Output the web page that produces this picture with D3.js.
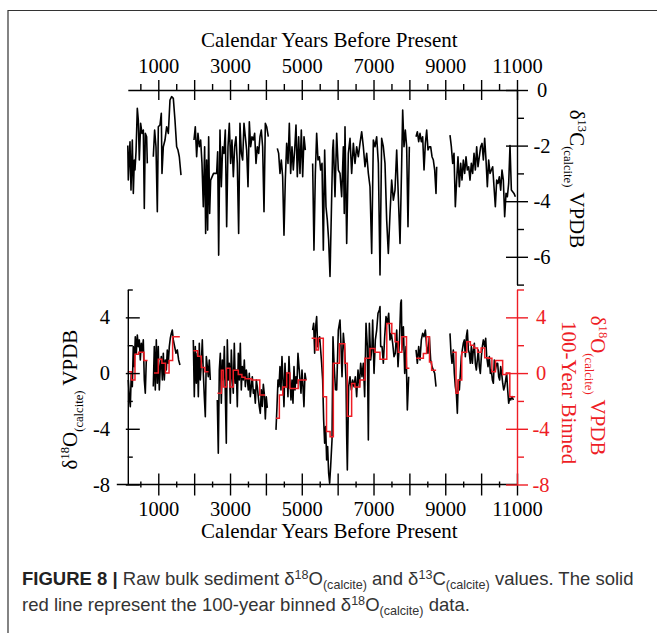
<!DOCTYPE html>
<html>
<head>
<meta charset="utf-8">
<script src="https://cdn.jsdelivr.net/npm/d3@7"></script>
<style>
  body { margin: 0; background: #fff; }
  svg { display: block; }
  svg text { font-family: "Liberation Serif", "Times New Roman", serif; font-size: 21px; }
  svg .tick text { font-size: 20.5px; }
  svg text.caption { font-family: "Liberation Sans", Arial, sans-serif; font-size: 18.5px; fill: #333; }
</style>
</head>
<body>
<script>
// ---- axis ticks ----
const majorYears = [1000, 2000, 3000, 4000, 5000, 6000, 7000, 8000, 9000, 10000, 11000];
const minorYears = [500, 1500, 2500, 3500, 4500, 5500, 6500, 7500, 8500, 9500, 10500];
const labelYears = [1000, 3000, 5000, 7000, 9000, 11000];
const c13Major = [0, -2, -4, -6];
const c13Minor = [-1, -3, -5, -7];
const o18Major = [-8, -4, 0, 4];
const o18Minor = [-6, -2, 2, 6];

// ---- raw d13C (calcite), [year BP, permil] per continuous run ----
const c13Run1 = [[150,-2.0],[164,-3.24],[211,-1.86],[239,-3.6],[276,-1.8],[304,-3.72],[332,-2.52],[350,-2.88],[380,-2.2],[415,-0.66],[443,-1.08],[471,-2.52],[508,-1.2],[545,-1.56],[583,-1.44],[610,-4.26],[638,-1.56],[675,-1.68],[694,-2.64]];
const c13Run2 = [[861,-2.4],[898,-1.44],[936,-2.04],[973,-4.38],[1001,-1.32],[1047,-1.26],[1084,-0.84],[1103,-3.0],[1140,-2.04],[1187,-1.8],[1233,-1.32],[1280,-1.56],[1326,-0.36],[1372,-0.24],[1419,-0.3],[1465,-1.08],[1512,-2.04],[1549,-2.16],[1586,-2.4],[1633,-3.06]];
const c13Run3 = [[1995,-1.8],[2032,-1.32],[2069,-2.4],[2106,-1.56],[2144,-2.04],[2181,-1.8],[2218,-2.64],[2255,-4.2],[2292,-2.04],[2320,-5.16],[2348,-2.52],[2376,-5.04],[2404,-1.68],[2432,-4.44],[2460,-3.24],[2540,-3.0],[2627,-3.0],[2655,-2.22],[2683,-5.94],[2720,-1.44],[2757,-3.48],[2794,-2.04],[2831,-2.28],[2868,-1.44],[2906,-4.92],[2943,-2.04],[2980,-1.2],[3017,-2.64],[3054,-1.8],[3092,-3.12],[3129,-2.04],[3166,-1.68],[3203,-2.64],[3240,-5.16],[3277,-1.2],[3315,-2.28],[3352,-2.52],[3389,-1.2],[3426,-1.68],[3463,-2.16],[3501,-3.48],[3538,-1.14],[3575,-2.04],[3612,-1.68],[3649,-1.8],[3686,-1.56],[3724,-2.64],[3761,-2.04],[3798,-2.28],[3835,-1.68],[3872,-1.44],[3909,-2.04],[3947,-4.38],[3984,-1.2],[4021,-1.32],[4067,-1.68]];
const c13Run4 = [[4318,-2.1],[4355,-2.28],[4393,-3.0],[4430,-2.52],[4467,-3.12],[4504,-5.22],[4541,-3.24],[4579,-1.92],[4616,-2.64],[4653,-1.2],[4690,-3.0],[4727,-2.04],[4764,-2.88],[4802,-2.16],[4839,-1.26],[4876,-3.12],[4913,-1.68],[4950,-3.0],[4987,-1.44],[5025,-3.12],[5062,-1.68],[5099,-2.16]];
const c13Run5 = [[5303,-2.64],[5340,-5.76],[5378,-3.0],[5415,-1.56],[5452,-2.52],[5489,-2.4],[5526,-2.88],[5564,-2.64],[5601,-5.76],[5638,-2.16],[5675,-4.2],[5712,-4.68],[5749,-5.4],[5787,-6.71],[5824,-4.44],[5861,-2.16],[5880,-1.8],[5926,-3.84],[5973,-1.56],[6019,-2.88],[6066,-3.0],[6112,-3.84],[6159,-2.04],[6185,-4.44],[6205,-1.32],[6252,-5.52],[6298,-2.28],[6345,-1.74],[6391,-3.0],[6438,-1.92],[6484,-2.64],[6530,-2.04],[6577,-2.4],[6623,-1.92],[6670,-1.5],[6716,-2.04],[6763,-2.76],[6809,-2.28],[6856,-3.0],[6902,-3.48],[6949,-5.88],[6995,-1.8],[7042,-2.04],[7088,-1.68],[7135,-2.64],[7181,-6.65],[7227,-1.74],[7274,-2.04],[7320,-2.64],[7367,-4.68],[7413,-5.88],[7460,-4.44],[7506,-3.24],[7553,-3.96],[7599,-3.6],[7646,-2.16],[7692,-3.84],[7739,-5.52],[7785,-2.64],[7813,-0.72],[7850,-2.04],[7887,-1.44],[7924,-2.04],[7961,-4.92],[7999,-2.04]];
const c13Run6 = [[8185,-1.68],[8222,-1.5],[8259,-1.86],[8296,-1.56],[8333,-1.86],[8370,-1.68],[8408,-2.88],[8445,-1.92],[8482,-1.44],[8519,-2.16],[8556,-2.04],[8593,-2.04],[8631,-2.4],[8668,-2.52],[8705,-2.88],[8742,-3.72],[8761,-2.76]];
const c13Run7 = [[9132,-1.62],[9170,-2.04],[9207,-2.64],[9244,-2.28],[9281,-4.2],[9318,-3.24],[9355,-2.4],[9393,-3.48],[9430,-2.64],[9467,-3.24],[9504,-2.52],[9541,-3.0],[9579,-2.4],[9616,-2.88],[9653,-2.76],[9690,-3.24],[9727,-2.64],[9764,-3.0],[9802,-2.28],[9839,-2.88],[9876,-2.04],[9913,-2.76],[9950,-2.4],[9987,-2.04],[10025,-1.92],[10062,-2.52],[10099,-1.74],[10136,-2.52],[10173,-3.48],[10210,-2.52],[10248,-3.0],[10285,-2.88],[10322,-2.76],[10359,-3.48],[10396,-4.2],[10434,-3.24],[10471,-3.36],[10508,-3.12],[10545,-3.6],[10582,-2.88],[10619,-3.24],[10656,-4.56],[10694,-3.72],[10731,-3.84],[10768,-3.36],[10805,-2.0],[10843,-3.6],[10880,-3.66],[10917,-3.72],[10954,-3.84]];

// ---- raw d18O (calcite) ----
const o18Run1 = [[164,-0.5],[192,-1.69],[220,-2.41],[248,-0.02],[276,-0.97],[303,1.9],[331,0.46],[359,2.61],[387,1.42],[415,2.73],[443,1.9],[471,2.38],[499,0.94],[526,2.14],[554,1.54],[582,2.38],[610,-0.5],[638,-1.45],[666,0.94]];
const o18Run2 = [[861,-0.97],[889,1.9],[917,-1.21],[945,2.38],[973,-0.73],[1000,1.9],[1028,-1.21],[1056,0.46],[1084,1.18],[1112,-0.5],[1140,1.42],[1168,-0.5],[1196,0.94],[1224,0.22],[1251,1.66],[1279,0.7],[1307,1.9],[1335,2.5],[1363,2.85],[1391,3.09],[1419,2.38],[1456,1.9],[1493,1.42],[1530,1.66],[1567,0.94],[1604,0.58]];
const o18Run3 = [[1976,2.38],[2004,-1.69],[2032,1.9],[2060,-0.73],[2088,1.42],[2116,-1.69],[2143,2.14],[2171,-0.5],[2199,0.7],[2227,2.38],[2255,-0.02],[2283,-1.69],[2311,-3.13],[2339,1.18],[2367,0.46],[2394,-0.26],[2422,0.94],[2450,-0.5]];
const o18Run4 = [[2645,-1.93],[2673,-5.76],[2701,0.22],[2729,1.42],[2757,-2.17],[2785,0.94],[2813,-0.5],[2841,1.9],[2868,-1.45],[2896,-5.04],[2924,2.38],[2952,-0.5],[2980,0.7],[3008,-2.17],[3036,1.66],[3063,-0.26],[3091,-1.45],[3119,2.14],[3147,-0.73],[3175,0.22],[3203,-2.41],[3231,1.42],[3259,-0.5],[3287,2.14],[3314,-1.21],[3342,0.46],[3370,-0.5],[3398,0.94],[3426,-0.97],[3454,0.22],[3482,-0.5],[3510,-1.21],[3537,-0.02],[3565,-1.69],[3593,-0.97],[3621,-0.26],[3649,-1.45],[3677,-1.21],[3705,-2.17],[3733,-0.5],[3760,-0.97],[3788,-1.69],[3816,-2.41],[3844,-2.89],[3872,-1.2],[3900,-2.4],[3928,-0.8],[3956,-1.5],[3984,-3.3],[4011,-1.7],[4039,-2.5]];
const o18Run5 = [[4281,-4.08],[4309,-2.41],[4337,-0.5],[4365,-0.97],[4392,0.46],[4420,-1.21],[4448,1.18],[4476,-0.5],[4504,-2.41],[4532,0.7],[4560,-0.97],[4588,-0.02],[4615,-1.69],[4643,1.18],[4671,-0.5],[4699,-1.93],[4727,-0.5],[4755,-2.17],[4783,0.46],[4811,-1.21],[4838,-0.26],[4866,-0.73],[4894,1.42],[4922,0.46],[4950,-0.5],[4978,-1.45],[5006,0.22],[5034,-0.97],[5061,-2.41],[5089,-0.02],[5117,-0.5]];
const o18Run6 = [[5303,3.09],[5331,3.57],[5359,1.42],[5387,3.33],[5415,4.05],[5443,1.9],[5471,2.38],[5498,2.61],[5526,1.66],[5554,0.7],[5582,-0.5],[5610,-3.37],[5638,-5.04],[5666,-3.84],[5693,-6.24],[5721,-5.28],[5749,-7.19],[5777,-7.91],[5805,-6.71],[5843,-4.8],[5870,2.6],[5900,0.7],[5940,-1.2],[5973,-1.21],[6019,3.09],[6066,3.81],[6094,1.9],[6122,-0.26],[6159,2.85],[6196,1.66],[6233,-0.5],[6252,-4.56],[6270,-6.95],[6307,-0.97],[6345,-0.26],[6382,-1.21],[6419,-0.5],[6456,-0.97],[6493,-0.26],[6530,-1.69],[6568,0.22],[6605,-0.97],[6642,0.7],[6679,-0.26],[6716,0.7],[6753,-1.69],[6791,3.57],[6828,1.9],[6856,-4.8],[6884,3.57],[6921,0.94],[6958,1.9],[6976,3.81],[7014,-0.02],[7051,2.38],[7088,3.09],[7125,4.29],[7162,4.53],[7181,4.77],[7200,1.9],[7237,1.9],[7274,0.7],[7311,2.61],[7348,4.05],[7385,3.57],[7423,4.29],[7460,2.38],[7497,2.85],[7534,2.14],[7571,1.18],[7608,1.42],[7646,3.09],[7683,0.46],[7720,2.14],[7757,5.0],[7776,5.25],[7794,1.66],[7832,3.33],[7869,-0.02],[7906,1.9],[7943,-2.65],[7980,-0.26]];
const o18Run7 = [[8185,1.66],[8222,0.7],[8259,1.9],[8296,0.94],[8333,2.38],[8370,2.85],[8408,2.61],[8445,3.09],[8482,1.9],[8519,1.42],[8556,2.61],[8593,0.94],[8631,0.46],[8668,0.22],[8705,-0.02],[8742,-0.97]];
const o18Run8 = [[9132,2.85],[9160,1.42],[9188,0.7],[9225,1.66],[9253,-0.02],[9281,-0.97],[9309,-1.45],[9337,-2.89],[9365,-0.5],[9393,-1.21],[9421,-0.02],[9448,1.18],[9476,1.66],[9504,2.14],[9532,2.38],[9560,1.18],[9588,2.61],[9616,3.09],[9644,1.66],[9671,1.42],[9699,0.7],[9727,1.9],[9755,0.7],[9783,1.66],[9811,2.14],[9839,0.7],[9867,0.22],[9894,0.94],[9922,1.66],[9950,0.46],[9978,-0.02],[10006,1.18],[10034,1.9],[10062,2.38],[10099,1.9],[10127,2.5],[10155,1.18],[10192,0.46],[10229,1.18],[10257,-0.02],[10285,0.22],[10313,-0.5],[10341,-0.73],[10368,0.94],[10396,0.22],[10434,0.7],[10461,0.7],[10489,-0.26],[10517,-0.5],[10545,0.46],[10573,-0.02],[10601,-0.73],[10629,-1.21],[10656,-0.97],[10684,-0.5],[10712,-0.02],[10740,-1.21],[10768,-2.17],[10796,-1.81],[10824,-1.93],[10861,-1.69],[10898,-1.93]];

// ---- 100-year binned d18O: [bin start, value]; a null value closes the run at that year ----
const binRun1 = [[150,0.1],[250,-0.5],[350,1.35],[450,1.5],[600,0.9],[700,null]];
const binRun2 = [[880,0.0],[1000,1.0],[1100,0.7],[1200,0.0],[1300,0.9],[1400,2.6],[1600,null]];
const binRun3 = [[1980,1.6],[2100,1.2],[2200,0.4],[2300,0.1],[2400,null]];
const binRun4 = [[2650,-1.45],[2760,0.2],[2810,-1.0],[2900,0.35],[3000,-1.0],[3090,0.2],[3230,-0.1],[3330,-0.3],[3420,-0.4],[3600,-0.5],[3830,-1.57],[3975,null]];
const binRun5 = [[4280,-3.25],[4375,-1.57],[4470,-1.0],[4580,0.0],[4670,-1.1],[4900,-0.5],[5135,null]];
const binRun6 = [[5275,2.5],[5400,1.65],[5460,2.5],[5600,-1.7],[5690,-4.2],[5790,-4.57],[5880,0.7],[6050,2.1],[6200,0.7],[6270,-3.1],[6390,-0.74],[6480,-1.0],[6620,-0.5],[6760,1.06],[6900,1.77],[7040,1.5],[7180,1.0],[7370,3.56],[7510,2.85],[7600,2.25],[7690,1.5],[7790,2.6],[7920,0.34],[8000,null]];
const binRun7 = [[8190,1.06],[8390,1.4],[8480,2.6],[8560,0.8],[8620,0.2],[8745,null]];
const binRun8 = [[9200,1.5],[9300,-1.45],[9360,-0.5],[9460,1.5],[9600,2.25],[9700,2.0],[9800,1.8],[9900,1.5],[10000,1.8],[10100,1.1],[10200,1.06],[10300,0.1],[10400,0.9],[10600,-0.1],[10700,0.0],[10800,-1.7],[10950,null]];

const c13Runs = [c13Run1, c13Run2, c13Run3, c13Run4, c13Run5, c13Run6, c13Run7];
const o18Runs = [o18Run1, o18Run2, o18Run3, o18Run4, o18Run5, o18Run6, o18Run7, o18Run8];
const binRuns = [binRun1, binRun2, binRun3, binRun4, binRun5, binRun6, binRun7, binRun8];

const w = 657;
const h = 633;
const red = '#ee1d25';

const svg = d3.select('body')
    .append('svg')
    .attr('width', w)
    .attr('height', h);

const xScale = d3.scaleLinear().domain([150, 11000]).range([127.8, 517]);
const yC = d3.scaleLinear().domain([0, -7]).range([90, 284.6]);
const yO = d3.scaleLinear().domain([-8, 6]).range([484.5, 289.5]);

const x0 = xScale.range()[0];
const x1 = xScale.range()[1];

// frame corner of the figure panel
svg.append('path')
    .attr('d', `M8,${h}V10.5H${w}`)
    .attr('fill', 'none')
    .attr('stroke', '#333')
    .attr('stroke-width', 1.2);

// ---- data lines ----
const lineC = d3.line().x(d => xScale(d[0])).y(d => yC(d[1]));
const lineO = d3.line().x(d => xScale(d[0])).y(d => yO(d[1]));

c13Runs.forEach(run => {
    svg.append('path').attr('d', lineC(run))
        .attr('fill', 'none').attr('stroke', '#000')
        .attr('stroke-width', 1.6).attr('stroke-linejoin', 'round');
});

o18Runs.forEach(run => {
    svg.append('path').attr('d', lineO(run))
        .attr('fill', 'none').attr('stroke', '#000')
        .attr('stroke-width', 1.6).attr('stroke-linejoin', 'round');
});

const stepO = d3.line().curve(d3.curveStepAfter).x(d => xScale(d[0])).y(d => yO(d[1]));
binRuns.forEach(run => {
    let pts = [];
    run.forEach((d, i) => {
        if (d[1] === null) pts.push([d[0], run[i - 1][1]]);
        else pts.push(d);
    });
    svg.append('path').attr('d', stepO(pts))
        .attr('fill', 'none').attr('stroke', red)
        .attr('stroke-width', 1.5);
});

// ---- axes ----
function styleAxis(g, color) {
    g.selectAll('path, line').attr('stroke', color).attr('stroke-width', 1.4);
    g.selectAll('text').attr('fill', color);
}
const fmt = d => labelYears.includes(d) ? String(d) : '';

// top x axis
const topAxis = svg.append('g')
    .attr('transform', `translate(0,${yC(0)})`)
    .call(d3.axisTop(xScale).tickValues(majorYears).tickSizeInner(10).tickSizeOuter(0).tickPadding(7.5).tickFormat(fmt));
topAxis.selectAll('.tick line').attr('y1', 10);
topAxis.selectAll('.tick text').filter(d => !labelYears.includes(d)).remove();
styleAxis(topAxis, '#000');

const topMinor = svg.append('g')
    .attr('transform', `translate(0,${yC(0)})`)
    .call(d3.axisTop(xScale).tickValues(minorYears).tickSize(6).tickFormat(''));
topMinor.select('.domain').remove();
topMinor.selectAll('text').remove();
styleAxis(topMinor, '#000');

// bottom x axis
const botAxis = svg.append('g')
    .attr('transform', `translate(0,${yO(-8)})`)
    .call(d3.axisBottom(xScale).tickValues(majorYears).tickSizeInner(11).tickSizeOuter(0).tickPadding(5.5).tickFormat(fmt));
botAxis.selectAll('.tick line').attr('y1', -11);
botAxis.selectAll('.tick text').filter(d => !labelYears.includes(d)).remove();
botAxis.select('.domain').attr('d', `M${x0 - 11},0H${x1}`);
styleAxis(botAxis, '#000');

const botMinor = svg.append('g')
    .attr('transform', `translate(0,${yO(-8)})`)
    .call(d3.axisBottom(xScale).tickValues(minorYears).tickSize(3).tickFormat(''));
botMinor.select('.domain').remove();
botMinor.selectAll('text').remove();
botMinor.selectAll('.tick line').attr('y1', -3);
styleAxis(botMinor, '#000');

// right axis, d13C
const rightC = svg.append('g')
    .attr('transform', `translate(${x1},0)`)
    .call(d3.axisRight(yC).tickValues(c13Major).tickSizeInner(11).tickSizeOuter(0).tickPadding(14).tickFormat(d => String(d)));
rightC.selectAll('.tick line').attr('x1', -11);
rightC.selectAll('text').attr('text-anchor', 'middle');
styleAxis(rightC, '#000');

const rightCMinor = svg.append('g')
    .attr('transform', `translate(${x1},0)`)
    .call(d3.axisRight(yC).tickValues(c13Minor).tickSize(7).tickFormat(''));
rightCMinor.select('.domain').remove();
rightCMinor.selectAll('text').remove();
styleAxis(rightCMinor, '#000');

// left axis, d18O
const leftO = svg.append('g')
    .attr('transform', `translate(${x0},0)`)
    .call(d3.axisLeft(yO).tickValues(o18Major).tickSizeInner(2).tickSizeOuter(0).tickPadding(15.8).tickFormat(d => String(d)));
leftO.selectAll('.tick line').attr('x1', 12);
styleAxis(leftO, '#000');

const leftOMinor = svg.append('g')
    .attr('transform', `translate(${x0},0)`)
    .call(d3.axisLeft(yO).tickValues(o18Minor).tickSize(-5).tickFormat(''));
leftOMinor.select('.domain').remove();
leftOMinor.selectAll('text').remove();
styleAxis(leftOMinor, '#000');

// right axis, binned d18O (red)
const rightO = svg.append('g')
    .attr('transform', `translate(${x1},0)`)
    .call(d3.axisRight(yO).tickValues(o18Major).tickSizeInner(11).tickSizeOuter(0).tickPadding(13).tickFormat(d => String(d)));
rightO.selectAll('.tick line').attr('x1', -11);
rightO.selectAll('text').attr('text-anchor', 'middle');
styleAxis(rightO, red);

const rightOMinor = svg.append('g')
    .attr('transform', `translate(${x1},0)`)
    .call(d3.axisRight(yO).tickValues(o18Minor).tickSize(7).tickFormat(''));
rightOMinor.select('.domain').remove();
rightOMinor.selectAll('text').remove();
styleAxis(rightOMinor, red);

// ---- titles ----
const midX = (x0 + x1) / 2 + 7;
svg.append('text').attr('x', midX).attr('y', 46.5)
    .attr('text-anchor', 'middle').text('Calendar Years Before Present');
svg.append('text').attr('x', midX).attr('y', 537.5)
    .attr('text-anchor', 'middle').text('Calendar Years Before Present');

// text with super/subscripts: parts = [[string, 'sup'|'sub'|null]]
function formula(sel, parts, size, small, supK = 0.36, subK = 0.28) {
    let shift = 0;
    parts.forEach(([str, kind]) => {
        const target = kind === 'sup' ? -supK * size : kind === 'sub' ? subK * size : 0;
        sel.append('tspan').text(str)
            .style('font-size', (kind ? size * small : size) + 'px')
            .attr('dy', target - shift);
        shift = target;
    });
    return sel;
}

const c13Label = [['δ', null], ['13', 'sup'], ['C', null], ['(calcite)', 'sub'], [' VPDB', null]];
const o18Label = [['δ', null], ['18', 'sup'], ['O', null], ['(calcite)', 'sub'], [' VPDB', null]];

formula(svg.append('text')
    .attr('transform', `translate(570,${yC(-3.2)}) rotate(90)`)
    .attr('text-anchor', 'middle'), c13Label, 21, 0.6);

formula(svg.append('text')
    .attr('transform', `translate(77,${yO(-1.9)}) rotate(-90)`)
    .attr('text-anchor', 'middle'), o18Label, 21, 0.6);

formula(svg.append('text')
    .attr('transform', `translate(591,${yO(-0.9)}) rotate(90)`)
    .attr('text-anchor', 'middle').attr('fill', red), o18Label, 21, 0.6);

svg.append('text')
    .attr('transform', `translate(562,${yO(-1.4)}) rotate(90)`)
    .attr('text-anchor', 'middle').attr('fill', red)
    .text('100-Year Binned');

// ---- caption ----
const cap1 = svg.append('text').attr('class', 'caption').attr('x', 22).attr('y', 585);
cap1.append('tspan').attr('font-weight', 'bold').attr('fill', '#222').text('FIGURE 8 | ');
formula(cap1, [['Raw bulk sediment δ', null], ['18', 'sup'], ['O', null], ['(calcite)', 'sub'],
    [' and δ', null], ['13', 'sup'], ['C', null], ['(calcite)', 'sub'], [' values. The solid', null]], 18.5, 0.68, 0.3, 0.2);

const cap2 = svg.append('text').attr('class', 'caption').attr('x', 22).attr('y', 611);
formula(cap2, [['red line represent the 100-year binned δ', null], ['18', 'sup'], ['O', null],
    ['(calcite)', 'sub'], [' data.', null]], 18.5, 0.68, 0.3, 0.2);
</script>
</body>
</html>
